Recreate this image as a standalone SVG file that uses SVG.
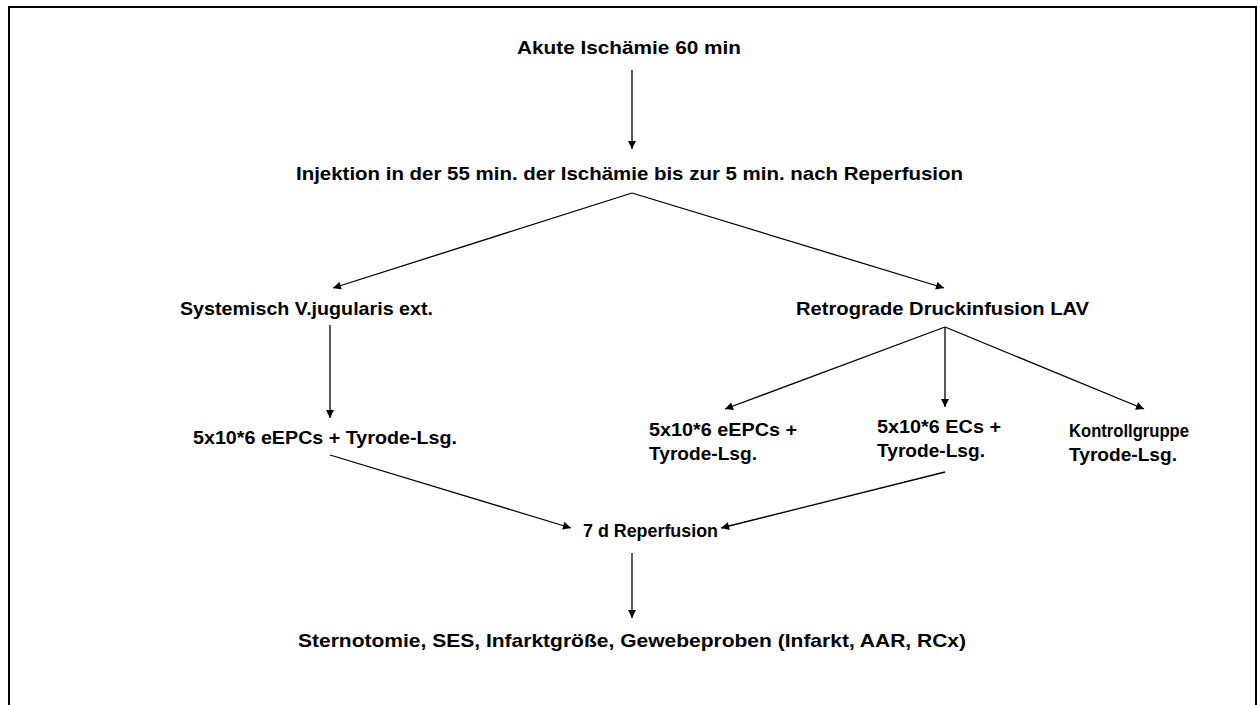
<svg xmlns="http://www.w3.org/2000/svg" width="1258" height="705" viewBox="0 0 1258 705">
<defs>
<marker id="ah" viewBox="0 0 10 10" refX="10" refY="5" markerWidth="9" markerHeight="8" markerUnits="userSpaceOnUse" orient="auto">
<path d="M0,0 L10,5 L0,10 Z" fill="#000"/>
</marker>
<style>
text{font-family:"Liberation Sans",Arial,sans-serif;font-weight:bold;font-size:19px;fill:#000}
.c line{stroke:#000;stroke-width:1.3;marker-end:url(#ah)}
</style>
</defs>
<rect width="1258" height="705" fill="#fff"/>
<path d="M9,705 V7 H1256 V705" fill="none" stroke="#000" stroke-width="2"/>
<g id="n1"><text x="517" y="54" textLength="224" lengthAdjust="spacingAndGlyphs">Akute Ischämie 60 min</text></g>
<g id="n2"><text x="296" y="180" textLength="667" lengthAdjust="spacingAndGlyphs">Injektion in der 55 min. der Ischämie bis zur 5 min. nach Reperfusion</text></g>
<g id="n3"><text x="180" y="315" textLength="253" lengthAdjust="spacingAndGlyphs">Systemisch V.jugularis ext.</text></g>
<g id="n4"><text x="796" y="315" textLength="293" lengthAdjust="spacingAndGlyphs">Retrograde Druckinfusion  LAV</text></g>
<g id="n5"><text x="193" y="444" textLength="264" lengthAdjust="spacingAndGlyphs">5x10*6 eEPCs + Tyrode-Lsg.</text></g>
<g id="n6"><text x="649" y="436" textLength="148" lengthAdjust="spacingAndGlyphs">5x10*6 eEPCs +</text><text x="649" y="460" textLength="108" lengthAdjust="spacingAndGlyphs">Tyrode-Lsg.</text></g>
<g id="n7"><text x="877" y="433" textLength="124" lengthAdjust="spacingAndGlyphs">5x10*6 ECs +</text><text x="877" y="457" textLength="108" lengthAdjust="spacingAndGlyphs">Tyrode-Lsg.</text></g>
<g id="n8"><text x="1069" y="437" textLength="120" lengthAdjust="spacingAndGlyphs">Kontrollgruppe</text><text x="1069" y="461" textLength="108" lengthAdjust="spacingAndGlyphs">Tyrode-Lsg.</text></g>
<g id="n9"><text x="583" y="537" textLength="135" lengthAdjust="spacingAndGlyphs">7 d Reperfusion</text></g>
<g id="n10"><text x="298" y="647" textLength="668" lengthAdjust="spacingAndGlyphs">Sternotomie, SES, Infarktgröße, Gewebeproben (Infarkt, AAR, RCx)</text></g>
<g id="connectors" class="c">
<line x1="632" y1="70" x2="632" y2="149"/>
<line x1="632" y1="193" x2="333" y2="288"/>
<line x1="632" y1="193" x2="944" y2="288"/>
<line x1="330" y1="325" x2="330" y2="418"/>
<line x1="945" y1="327" x2="725" y2="409"/>
<line x1="945" y1="327" x2="945" y2="407"/>
<line x1="945" y1="327" x2="1144" y2="409"/>
<line x1="330" y1="455" x2="571" y2="528"/>
<line x1="945" y1="472" x2="721" y2="528"/>
<line x1="632" y1="553" x2="632" y2="618"/>
</g>
</svg>
